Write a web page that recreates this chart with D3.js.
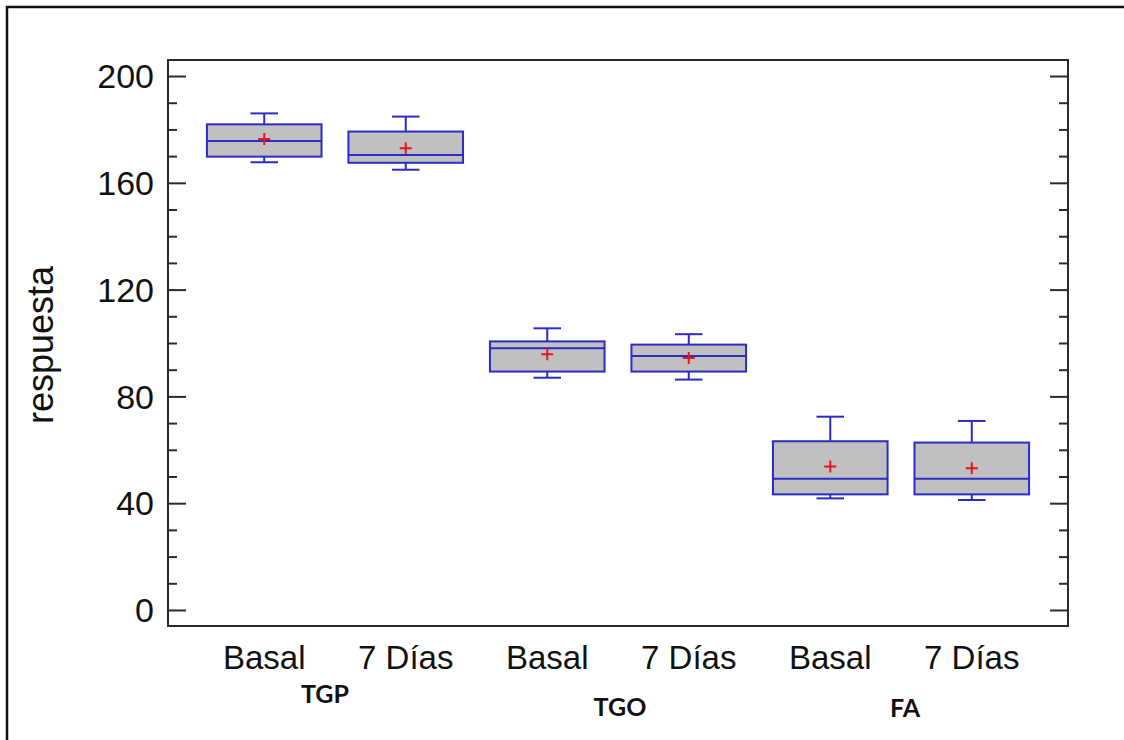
<!DOCTYPE html>
<html>
<head>
<meta charset="utf-8">
<script src="https://cdn.jsdelivr.net/npm/d3@7/dist/d3.min.js"></script>
<style>
  html, body { margin: 0; padding: 0; background: #fff; }
  svg { display: block; }
</style>
</head>
<body>
<svg id="chart" width="1124" height="740"></svg>
<script>
// Box-plot summaries per measurement (liver enzymes, basal vs. day 7)
const categories  = ["TGP-Basal", "TGP-7", "TGO-Basal", "TGO-7", "FA-Basal", "FA-7"];
const tickLabels  = ["Basal", "7 Días", "Basal", "7 Días", "Basal", "7 Días"];
const groups      = ["TGP", "TGO", "FA"];
const whiskerLow  = [167.7, 164.9, 87.0, 86.3, 41.8, 41.2];
const q1          = [169.8, 167.5, 89.3, 89.3, 43.3, 43.3];
const medians     = [175.7, 170.4, 98.0, 95.1, 49.2, 49.2];
const q3          = [181.9, 179.2, 100.6, 99.4, 63.2, 62.7];
const whiskerHigh = [186.0, 184.8, 105.5, 103.3, 72.4, 70.8];
const means       = [176.4, 172.9, 95.8, 94.4, 53.7, 53.1];
const yTicks      = [0, 40, 80, 120, 160, 200];
const yTitle      = "respuesta";

const svg = d3.select("#chart");
const W = 1124, H = 740;
const plot = { left: 168, right: 1068, top: 60, bottom: 626 };

const boxStroke = "#2b2bc6";
const boxFill = "#c0c0c0";
const axisColor = "#2b2b2b";

// cropped frame around the figure (top and left edges)
svg.append("path")
  .attr("d", `M7,${H} V7 H${W}`)
  .attr("fill", "none").attr("stroke", "#111").attr("stroke-width", 2.5);

const x = d3.scalePoint().domain(categories)
  .range([plot.left, plot.right]).padding(0.68);
const y = d3.scaleLinear().domain([-6.0, 206.0])
  .range([plot.bottom, plot.top]);

const boxW = x.step() * 0.81;
const capW = boxW * 0.24;

// y axes: left with labels, right ticks only; major ticks every 40, minor every 10
const minor = d3.range(0, 201, 10).filter(v => v % 40 !== 0);

const leftAxis = d3.axisRight(y).tickValues(yTicks).tickSize(18).tickFormat("");
const leftMinor = d3.axisRight(y).tickValues(minor).tickSize(9).tickFormat("");
const rightAxis = d3.axisLeft(y).tickValues(yTicks).tickSize(18).tickFormat("");
const rightMinor = d3.axisLeft(y).tickValues(minor).tickSize(9).tickFormat("");

function styleAxis(g) {
  g.select(".domain").remove();
  g.selectAll(".tick line").attr("stroke", axisColor).attr("stroke-width", 2);
}
svg.append("g").attr("transform", `translate(${plot.left},0)`).call(leftAxis).call(styleAxis);
svg.append("g").attr("transform", `translate(${plot.left},0)`).call(leftMinor).call(styleAxis);
svg.append("g").attr("transform", `translate(${plot.right},0)`).call(rightAxis).call(styleAxis);
svg.append("g").attr("transform", `translate(${plot.right},0)`).call(rightMinor).call(styleAxis);

// y tick labels
svg.append("g").selectAll("text").data(yTicks).join("text")
  .attr("x", plot.left - 14)
  .attr("y", d => y(d))
  .attr("dy", "0.36em")
  .attr("text-anchor", "end")
  .attr("font-family", "Liberation Sans, Arial, sans-serif")
  .attr("font-size", 34)
  .attr("fill", "#111")
  .text(d => d);

// y axis title
svg.append("text")
  .attr("transform", `translate(53,345) rotate(-90)`)
  .attr("text-anchor", "middle")
  .attr("font-family", "Liberation Sans, Arial, sans-serif")
  .attr("font-size", 36)
  .attr("fill", "#111")
  .text(yTitle);

// plot frame
svg.append("rect")
  .attr("x", plot.left).attr("y", plot.top)
  .attr("width", plot.right - plot.left).attr("height", plot.bottom - plot.top)
  .attr("fill", "none").attr("stroke", axisColor).attr("stroke-width", 2);

// boxes
const boxes = svg.append("g").selectAll("g").data(categories).join("g")
  .attr("transform", d => `translate(${x(d)},0)`);

boxes.append("line") // upper whisker
  .attr("x1", 0).attr("x2", 0)
  .attr("y1", (d, i) => y(q3[i])).attr("y2", (d, i) => y(whiskerHigh[i]))
  .attr("stroke", boxStroke).attr("stroke-width", 2);
boxes.append("line") // lower whisker
  .attr("x1", 0).attr("x2", 0)
  .attr("y1", (d, i) => y(q1[i])).attr("y2", (d, i) => y(whiskerLow[i]))
  .attr("stroke", boxStroke).attr("stroke-width", 2);
boxes.append("line") // upper cap
  .attr("x1", -capW / 2).attr("x2", capW / 2)
  .attr("y1", (d, i) => y(whiskerHigh[i])).attr("y2", (d, i) => y(whiskerHigh[i]))
  .attr("stroke", boxStroke).attr("stroke-width", 2);
boxes.append("line") // lower cap
  .attr("x1", -capW / 2).attr("x2", capW / 2)
  .attr("y1", (d, i) => y(whiskerLow[i])).attr("y2", (d, i) => y(whiskerLow[i]))
  .attr("stroke", boxStroke).attr("stroke-width", 2);
boxes.append("rect")
  .attr("x", -boxW / 2).attr("width", boxW)
  .attr("y", (d, i) => y(q3[i]))
  .attr("height", (d, i) => y(q1[i]) - y(q3[i]))
  .attr("fill", boxFill).attr("stroke", boxStroke).attr("stroke-width", 2);
boxes.append("line") // median
  .attr("x1", -boxW / 2).attr("x2", boxW / 2)
  .attr("y1", (d, i) => y(medians[i])).attr("y2", (d, i) => y(medians[i]))
  .attr("stroke", boxStroke).attr("stroke-width", 2);

// mean markers
const m = 6;
boxes.append("path")
  .attr("d", (d, i) => {
    const cy = y(means[i]);
    return `M${-m},${cy} H${m} M0,${cy - m} V${cy + m}`;
  })
  .attr("stroke", "#e8141e").attr("stroke-width", 2).attr("fill", "none");

// category tick labels
svg.append("g").selectAll("text").data(categories).join("text")
  .attr("x", d => x(d))
  .attr("y", 669)
  .attr("text-anchor", "middle")
  .attr("font-family", "Liberation Sans, Arial, sans-serif")
  .attr("font-size", 33)
  .attr("fill", "#111")
  .text((d, i) => tickLabels[i]);

// group labels under each pair
const groupDx = [-10, 2, 4];
const groupBase = [703, 716, 717];
svg.append("g").selectAll("text").data(groups).join("text")
  .attr("x", (g, j) => (x(categories[2 * j]) + x(categories[2 * j + 1])) / 2 + groupDx[j])
  .attr("y", (g, j) => groupBase[j])
  .attr("text-anchor", "middle")
  .attr("font-family", "Lato, 'Open Sans', sans-serif")
  .attr("font-weight", "bold")
  .attr("font-size", 25)
  .attr("fill", "#111")
  .text(g => g);
</script>
</body>
</html>
